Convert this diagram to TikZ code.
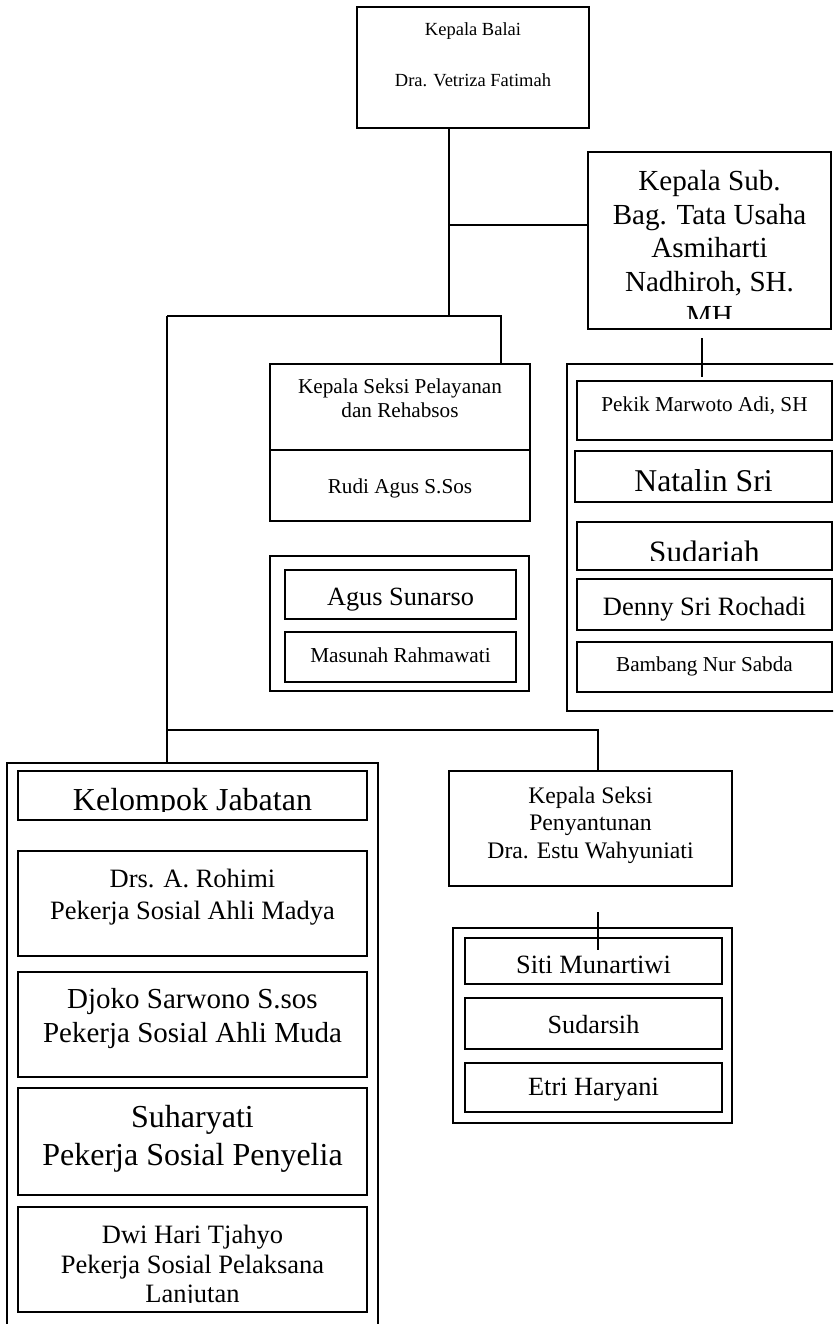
\documentclass[tikz,border=0pt]{standalone}
\usepackage{fontspec}
\setmainfont{Liberation Serif}
\newcommand\fsz[1]{\fontsize{#1}{#1}\selectfont}
\newcommand\mkbox[6]{\node[#6, anchor=north west, minimum width={#4pt-#2pt}, minimum height={#5pt-#3pt}] (#1) at (#2,#3) {};}
\begin{document}
\begin{tikzpicture}[x=1pt,y=-1pt,
  box/.style={draw, line width=1.9pt, inner sep=0pt, outer sep=0pt, rectangle},
  obox/.style={draw, line width=1.3pt, inner sep=0pt, outer sep=0pt, rectangle},
  conn/.style={line width=1.8pt},
  txt/.style={anchor=base, inner sep=0pt, outer sep=0pt}]
\clip (0,0) rectangle (833,1324);
\fill[white] (0,0) rectangle (833,1324);
% boxes
\mkbox{balai}{357}{7}{589}{128}{box}
\mkbox{sub}{588}{152}{831}{329}{box}
\mkbox{pel}{270}{364}{530}{521}{box}
\mkbox{agusout}{270}{556}{529}{691}{obox}
\mkbox{agus}{285}{570}{516}{619}{box}
\mkbox{masunah}{285}{632}{516}{682}{box}
\mkbox{rcont}{567}{364}{850}{711}{obox}
\mkbox{pekik}{577}{381}{832}{440}{box}
\mkbox{natalin}{575}{451}{832}{502}{box}
\mkbox{sudariah}{577}{522}{832}{570}{box}
\mkbox{denny}{577}{579}{832}{630}{box}
\mkbox{bambang}{577}{642}{832}{692}{box}
\mkbox{kelout}{7}{763}{378}{1345}{obox}
\mkbox{kel}{18}{771}{367}{820}{box}
\mkbox{drs}{18}{851}{367}{956}{box}
\mkbox{djoko}{18}{972}{367}{1077}{box}
\mkbox{suhar}{18}{1088}{367}{1195}{box}
\mkbox{dwi}{18}{1207}{367}{1312}{box}
\mkbox{peny}{449}{771}{732}{886}{box}
\mkbox{sitiout}{453}{928}{732}{1123}{obox}
\mkbox{siti}{465}{938}{722}{984}{box}
\mkbox{sudarsih}{465}{998}{722}{1049}{box}
\mkbox{etri}{465}{1063}{722}{1112}{box}
% divider inside pel
\draw[conn] (pel.west |- 0,450) -- (pel.east |- 0,450);
% connectors
\coordinate (jA) at (449,225);
\coordinate (jB) at (449,316);
\coordinate (jL) at (167,316);
\coordinate (jR) at (501,316);
\coordinate (jM) at (167,730);
\coordinate (jN) at (598,730);
\coordinate (sA) at (702,338);
\coordinate (sB) at (702,377);
\coordinate (pA) at (598,912);
\coordinate (pB) at (598,950);
\draw[conn] (balai.south -| jA) -- (jB);
\draw[conn] (jA) -- (jA -| sub.west);
\draw[conn] (jL) -- (jR) -- (jR |- pel.north);
\draw[conn] (jL) -- (jL |- kelout.north);
\draw[conn] (jM) -- (jN) -- (jN |- peny.north);
\draw[conn] (sA) -- (sB);
\draw[conn] (pA) -- (pB);
% texts
\node[txt,font=\fsz{18.5}] (tBalai1) at (balai.center |- 0,36) {Kepala Balai};
\node[txt,font=\fsz{18.5}] (tBalai2) at (balai.center |- 0,87) {Dra. Vetriza Fatimah};
\node[txt,font=\fsz{29.1}] (tSub1) at (sub.center |- 0,191) {Kepala Sub.};
\node[txt,font=\fsz{29.1}] (tSub2) at (sub.center |- 0,224.5) {Bag. Tata Usaha};
\node[txt,font=\fsz{29.1}] (tSub3) at (sub.center |- 0,258) {Asmiharti};
\node[txt,font=\fsz{29.1}] (tSub4) at (sub.center |- 0,291.5) {Nadhiroh, SH.};
\begin{scope}
\clip (588,152) rectangle (831,318);
\node[txt,font=\fsz{29.1}] (tSub5) at (sub.center |- 0,325) {MH};
\end{scope}
\node[txt,font=\fsz{21.2}] (tPel1) at (pel.center |- 0,393) {Kepala Seksi Pelayanan};
\node[txt,font=\fsz{21.2}] (tPel2) at (pel.center |- 0,417) {dan Rehabsos};
\node[txt,font=\fsz{21.2}] (tPel3) at (pel.center |- 0,493) {Rudi Agus S.Sos};
\node[txt,font=\fsz{26.3}] (tAgus) at (agus.center |- 0,605) {Agus Sunarso};
\node[txt,font=\fsz{21.3}] (tMas) at (masunah.center |- 0,662) {Masunah Rahmawati};
\node[txt,font=\fsz{21.2}] (tPekik) at (pekik.center |- 0,411) {Pekik Marwoto Adi, SH};
\node[txt,font=\fsz{31.7}] (tNat) at (natalin.center |- 0,491) {Natalin Sri};
\begin{scope}
\clip (577,522) rectangle (832,560);
\node[txt,font=\fsz{31.1}] (tSud) at (sudariah.center |- 0,562.6) {Sudariah};
\end{scope}
\node[txt,font=\fsz{26.5}] (tDen) at (denny.center |- 0,615) {Denny Sri Rochadi};
\node[txt,font=\fsz{21.2}] (tBam) at (bambang.center |- 0,671) {Bambang Nur Sabda};
\begin{scope}
\clip (18,771) rectangle (367,811.5);
\node[txt,font=\fsz{32}] (tKel) at (kel.center |- 0,810) {Kelompok Jabatan};
\end{scope}
\node[txt,font=\fsz{26.5}] (tDrs1) at (drs.center |- 0,887) {Drs. A. Rohimi};
\node[txt,font=\fsz{26.5}] (tDrs2) at (drs.center |- 0,919) {Pekerja Sosial Ahli Madya};
\node[txt,font=\fsz{29}] (tDj1) at (djoko.center |- 0,1008) {Djoko Sarwono S.sos};
\node[txt,font=\fsz{29}] (tDj2) at (djoko.center |- 0,1042) {Pekerja Sosial Ahli Muda};
\node[txt,font=\fsz{32}] (tSu1) at (suhar.center |- 0,1127) {Suharyati};
\node[txt,font=\fsz{32}] (tSu2) at (suhar.center |- 0,1165) {Pekerja Sosial Penyelia};
\node[txt,font=\fsz{26.5}] (tDw1) at (dwi.center |- 0,1243) {Dwi Hari Tjahyo};
\node[txt,font=\fsz{26.5}] (tDw2) at (dwi.center |- 0,1273) {Pekerja Sosial Pelaksana};
\begin{scope}
\clip (18,1207) rectangle (367,1302.3);
\node[txt,font=\fsz{26.5}] (tDw3) at (dwi.center |- 0,1302) {Lanjutan};
\end{scope}
\node[txt,font=\fsz{23.7}] (tPy1) at (peny.center |- 0,803) {Kepala Seksi};
\node[txt,font=\fsz{23.7}] (tPy2) at (peny.center |- 0,830.5) {Penyantunan};
\node[txt,font=\fsz{23.7}] (tPy3) at (peny.center |- 0,858) {Dra. Estu Wahyuniati};
\node[txt,font=\fsz{26.4}] (tSiti) at (siti.center |- 0,973) {Siti Munartiwi};
\node[txt,font=\fsz{26.2}] (tSuds) at (sudarsih.center |- 0,1033) {Sudarsih};
\node[txt,font=\fsz{26.3}] (tEtri) at (etri.center |- 0,1095) {Etri Haryani};
\end{tikzpicture}
\end{document}
